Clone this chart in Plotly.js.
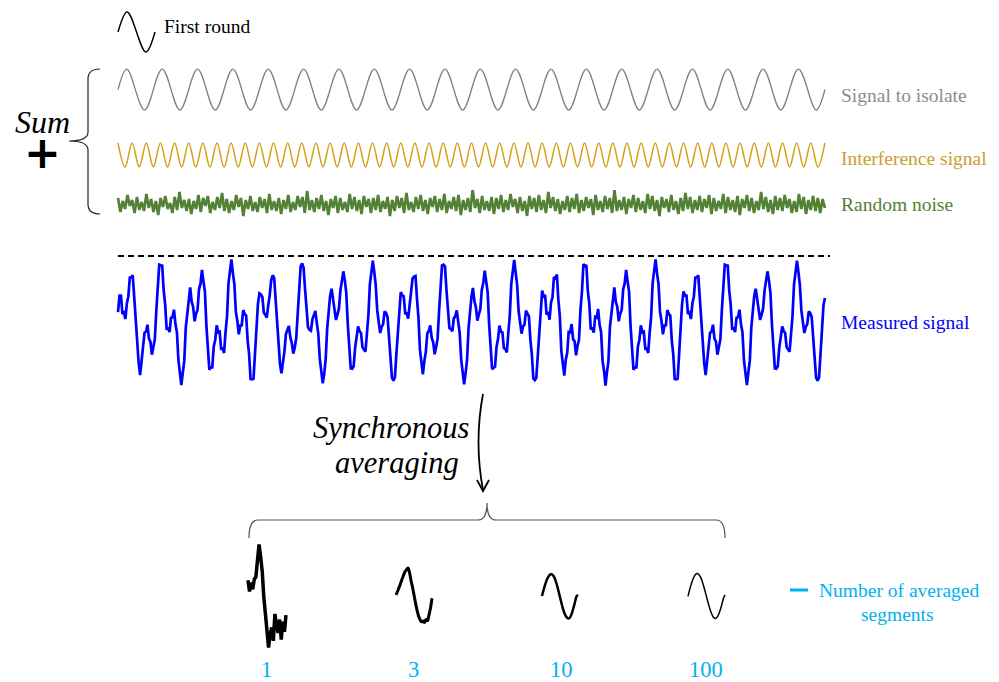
<!DOCTYPE html>
<html><head><meta charset="utf-8">
<script src="https://cdn.plot.ly/plotly-3.0.1.min.js"></script>
<style>html,body{margin:0;padding:0;background:#fff}#chart{width:999px;height:682px}</style>
</head><body><div id="chart"></div>
<script>
// ---------- DATA ----------
// Signal to isolate: 20 cycles, values at start, every extremum, end
const signalToIsolate = [0,
 1,-1, 1,-1, 1,-1, 1,-1, 1,-1, 1,-1, 1,-1, 1,-1, 1,-1, 1,-1,
 1,-1, 1,-1, 1,-1, 1,-1, 1,-1, 1,-1, 1,-1, 1,-1, 1,-1, 1,-1,
 0];
// Interference signal: 50 cycles, value at every extremum
const interferenceSignal = [
 1,-1,1,-1,1,-1,1,-1,1,-1,1,-1,1,-1,1,-1,1,-1,1,-1,
 1,-1,1,-1,1,-1,1,-1,1,-1,1,-1,1,-1,1,-1,1,-1,1,-1,
 1,-1,1,-1,1,-1,1,-1,1,-1,1,-1,1,-1,1,-1,1,-1,1,-1,
 1,-1,1,-1,1,-1,1,-1,1,-1,1,-1,1,-1,1,-1,1,-1,1,-1,
 1,-1,1,-1,1,-1,1,-1,1,-1,1,-1,1,-1,1,-1,1,-1,1,-1,
 1];
// Random noise (300 samples)
const randomNoise = [
 0.6,-0.8,0.3,-0.5,0.9,-0.2,0.4,-0.9,0.7,-0.6,
 0.2,-0.7,1.0,-0.4,0.5,-0.8,0.3,-1.1,0.6,-0.3,
 0.8,-0.5,0.1,-0.9,0.7,-0.6,1.2,-0.4,0.4,-0.7,
 0.5,-1.0,0.3,-0.5,0.9,-0.8,0.6,-0.2,0.8,-0.9,
 0.2,-0.6,0.7,-0.4,1.1,-0.7,0.5,-0.9,0.3,-0.6,
 0.9,-0.3,0.6,-1.2,0.4,-0.5,0.8,-0.7,0.2,-0.8,
 0.7,-0.4,0.5,-0.9,1.0,-0.6,0.3,-0.7,0.6,-1.0,
 0.4,-0.5,0.9,-0.8,0.2,-0.6,0.8,-0.3,0.7,-0.9,
 1.3,-0.6,0.4,-0.8,0.6,-0.5,0.9,-0.7,0.3,-1.1,
 0.5,-0.4,0.8,-0.9,0.6,-0.6,0.2,-0.8,1.0,-0.5,
 0.7,-0.7,0.4,-1.0,0.8,-0.3,0.5,-0.9,0.6,-0.6,
 0.9,-0.8,0.3,-0.5,0.7,-1.2,0.4,-0.7,0.8,-0.4,
 0.6,-0.9,1.1,-0.6,0.2,-0.8,0.7,-0.5,0.9,-0.7,
 0.4,-1.0,0.6,-0.3,0.8,-0.8,0.5,-0.6,1.0,-0.9,
 0.3,-0.5,0.7,-0.7,0.9,-1.1,0.4,-0.6,0.6,-0.8,
 1.5,-0.4,0.5,-0.9,0.8,-0.6,0.3,-0.7,0.7,-1.0,
 0.6,-0.5,0.9,-0.8,0.4,-0.6,1.0,-0.3,0.5,-0.9,
 0.7,-0.7,0.3,-1.2,0.8,-0.5,0.6,-0.8,0.9,-0.6,
 0.4,-0.9,1.2,-0.4,0.7,-0.7,0.5,-1.0,0.3,-0.6,
 0.8,-0.8,0.6,-0.5,1.0,-0.9,0.4,-0.7,0.7,-0.4,
 0.5,-1.1,0.9,-0.6,0.3,-0.8,0.8,-0.5,0.6,-0.9,
 1.4,-0.7,0.4,-0.6,0.7,-1.0,0.5,-0.4,0.9,-0.8,
 0.6,-0.6,0.3,-0.9,1.0,-0.5,0.8,-0.7,0.4,-1.2,
 0.7,-0.4,0.5,-0.8,0.9,-0.6,0.3,-1.0,0.6,-0.7,
 1.1,-0.5,0.7,-0.9,0.4,-0.6,0.8,-0.8,0.5,-0.4,
 0.9,-1.0,0.6,-0.7,0.3,-0.5,1.0,-0.9,0.7,-0.6,
 0.4,-0.8,0.8,-1.1,0.5,-0.4,0.9,-0.7,0.6,-0.9,
 0.3,-0.6,1.2,-0.5,0.7,-0.8,0.4,-1.0,0.8,-0.6,
 0.6,-0.7,0.9,-0.4,0.5,-0.9,0.3,-0.8,1.0,-0.5,
 0.7,-1.0,0.4,-0.6,0.8,-0.7,0.6,-0.9,0.5,-0.4];
// Measured signal: 481 samples, 24 samples per signal cycle
const measuredSignal = [
 0.30,0.79,0.79,0.24,0.28,0.09,0.56,0.76,1.33,1.34,1.40,0.68,0.15,-0.85,-1.22,-1.59,-1.15,-0.91,-0.32,-0.29,-0.08,-0.50,-0.59,-0.98,
 -0.73,-0.52,0.35,0.92,1.72,1.70,1.69,0.95,0.53,-0.20,-0.19,-0.30,0.13,0.15,0.37,-0.07,-0.31,-1.14,-1.48,-1.89,-1.52,-1.16,-0.17,0.31,
 0.74,1.04,0.60,0.46,0.02,0.25,0.36,0.98,1.15,1.56,1.22,0.91,-0.10,-0.70,-1.43,-1.36,-1.36,-0.73,-0.54,-0.10,-0.31,-0.29,-0.80,-0.79,
 -0.93,-0.31,0.16,1.16,1.52,1.88,1.46,1.14,0.31,0.04,-0.37,-0.11,-0.10,0.36,0.24,0.19,-0.55,-0.96,-1.71,-1.72,-1.70,-0.92,-0.36,0.54,
 0.86,0.83,0.75,0.28,0.22,0.13,0.50,0.80,1.26,1.40,1.33,0.72,0.10,-0.80,-1.27,-1.54,-1.20,-0.88,-0.36,-0.25,-0.12,-0.46,-0.63,-0.95,
 -0.77,-0.48,0.31,0.96,1.66,1.76,1.63,0.99,0.49,-0.16,-0.23,-0.26,0.08,0.19,0.33,-0.03,-0.36,-1.10,-1.52,-1.84,-1.56,-1.12,-0.21,0.35,
 0.78,1.00,0.64,0.43,0.06,0.22,0.40,0.94,1.19,1.52,1.25,0.87,-0.06,-0.73,-1.39,-1.40,-1.32,-0.77,-0.50,-0.13,-0.27,-0.33,-0.76,-0.83,
 -0.89,-0.35,0.20,1.12,1.55,1.84,1.50,1.10,0.35,0.00,-0.33,-0.15,-0.06,0.32,0.27,0.15,-0.51,-1.00,-1.67,-1.76,-1.66,-0.96,-0.32,0.50,
 0.90,0.80,0.77,0.26,0.26,0.10,0.54,0.78,1.31,1.36,1.38,0.70,0.13,-0.83,-1.24,-1.57,-1.17,-0.90,-0.34,-0.27,-0.10,-0.48,-0.61,-0.97,
 -0.75,-0.50,0.33,0.94,1.70,1.72,1.67,0.97,0.51,-0.18,-0.21,-0.28,0.11,0.17,0.35,-0.05,-0.33,-1.12,-1.50,-1.87,-1.54,-1.14,-0.19,0.33,
 0.76,1.02,0.62,0.44,0.04,0.23,0.38,0.96,1.17,1.54,1.23,0.89,-0.08,-0.71,-1.41,-1.38,-1.34,-0.75,-0.52,-0.11,-0.29,-0.31,-0.78,-0.81,
 -0.91,-0.33,0.18,1.14,1.53,1.86,1.48,1.12,0.33,0.02,-0.35,-0.13,-0.08,0.34,0.25,0.17,-0.53,-0.98,-1.69,-1.74,-1.68,-0.94,-0.34,0.52,
 0.94,0.77,0.81,0.22,0.30,0.07,0.58,0.74,1.35,1.32,1.42,0.66,0.17,-0.87,-1.20,-1.61,-1.13,-0.93,-0.30,-0.31,-0.06,-0.52,-0.57,-1.00,
 -0.71,-0.54,0.37,0.90,1.74,1.68,1.71,0.93,0.55,-0.22,-0.17,-0.32,0.15,0.13,0.39,-0.09,-0.29,-1.16,-1.46,-1.91,-1.50,-1.18,-0.15,0.29,
 0.74,1.04,0.60,0.46,0.02,0.25,0.36,0.98,1.15,1.56,1.22,0.91,-0.10,-0.70,-1.43,-1.36,-1.36,-0.73,-0.54,-0.10,-0.31,-0.29,-0.80,-0.79,
 -0.93,-0.31,0.16,1.16,1.52,1.88,1.46,1.14,0.31,0.04,-0.37,-0.11,-0.10,0.36,0.24,0.19,-0.55,-0.96,-1.71,-1.72,-1.70,-0.92,-0.36,0.54,
 0.92,0.79,0.79,0.24,0.28,0.09,0.56,0.76,1.33,1.34,1.40,0.68,0.15,-0.85,-1.22,-1.59,-1.15,-0.91,-0.32,-0.29,-0.08,-0.50,-0.59,-0.98,
 -0.73,-0.52,0.35,0.92,1.72,1.70,1.69,0.95,0.53,-0.20,-0.19,-0.30,0.13,0.15,0.37,-0.07,-0.31,-1.14,-1.48,-1.89,-1.52,-1.16,-0.17,0.31,
 0.78,1.00,0.64,0.43,0.06,0.22,0.40,0.94,1.19,1.52,1.25,0.87,-0.06,-0.73,-1.39,-1.40,-1.32,-0.77,-0.50,-0.13,-0.27,-0.33,-0.76,-0.83,
 -0.89,-0.35,0.20,1.12,1.55,1.84,1.50,1.10,0.35,0.00,-0.33,-0.15,-0.06,0.32,0.27,0.15,-0.51,-1.00,-1.67,-1.76,-1.66,-0.96,-0.32,0.50,
 0.72];
// First round: one cycle of the signal
const firstRound = [0, 1, -1, 0];
// Synchronous averages (one signal cycle each, 25 samples)
const segmentCounts = ['1', '3', '10', '100'];
const avg1   = [0.70,0.20,0.60,0.30,0.75,0.85,1.60,2.30,1.75,1.10,-0.05,-0.90,-1.55,-2.30,-1.70,-1.40,-2.00,-0.80,-1.30,-1.65,-1.05,-1.95,-1.15,-1.60,-0.85];
const avg3   = [0.05,0.20,0.38,0.55,0.75,0.92,1.08,1.18,1.25,1.05,0.70,0.40,0.05,-0.30,-0.62,-0.88,-1.05,-1.15,-1.12,-1.18,-1.05,-1.10,-0.85,-0.55,-0.10];
const avg10  = [0.00,0.25,0.48,0.68,0.83,0.93,0.97,0.95,0.86,0.70,0.48,0.22,-0.05,-0.32,-0.57,-0.77,-0.91,-0.99,-1.00,-0.92,-0.75,-0.52,-0.27,-0.02,0.05];
const avg100 = [-0.02,0.26,0.50,0.71,0.87,0.97,1.00,0.96,0.86,0.70,0.48,0.23,-0.03,-0.29,-0.53,-0.74,-0.89,-0.98,-1.00,-0.94,-0.80,-0.60,-0.36,-0.10,0.05];
const rowLabels = ['Signal to isolate', 'Interference signal', 'Random noise', 'Measured signal'];

// ---------- time axes (in signal cycles) ----------
const sigT = signalToIsolate.map((_, i) => i === 0 ? 0 : (i === signalToIsolate.length - 1 ? 20 : 0.25 + 0.5 * (i - 1)));
const intT = interferenceSignal.map((_, i) => i * 0.2);
const noiseT = randomNoise.map((_, i) => i * 20 / (randomNoise.length - 1));
const measT = measuredSignal.map((_, i) => i / 24);
const frT = [0, 0.25, 0.75, 1];
const avgT = avg1.map((_, i) => i / (avg1.length - 1));

// ---------- helpers for page positions ----------
const W = 999, H = 682;
const px = x => x / W;
const py = y => 1 - y / H;
const SERIF = 'Liberation Serif, Times New Roman, serif';
const CYAN = '#00B0F0';

const traces = [
  {x: sigT, y: signalToIsolate, xaxis: 'x', yaxis: 'y', mode: 'lines', line: {color: '#7f7f7f', width: 1.3, shape: 'spline'}},
  {x: intT, y: interferenceSignal, xaxis: 'x', yaxis: 'y2', mode: 'lines', line: {color: '#D4A017', width: 1.5, shape: 'spline'}},
  {x: noiseT, y: randomNoise, xaxis: 'x', yaxis: 'y3', mode: 'lines', line: {color: '#538135', width: 2.7}},
  {x: measT, y: measuredSignal, xaxis: 'x', yaxis: 'y4', mode: 'lines', line: {color: '#0000FF', width: 2.7}},
  {x: frT, y: firstRound, xaxis: 'x2', yaxis: 'y5', mode: 'lines', line: {color: '#000', width: 1.5, shape: 'spline'}},
  {x: avgT, y: avg1, xaxis: 'x3', yaxis: 'y6', mode: 'lines', line: {color: '#000', width: 3.5}},
  {x: avgT, y: avg3, xaxis: 'x4', yaxis: 'y6', mode: 'lines', line: {color: '#000', width: 3, shape: 'spline'}},
  {x: avgT, y: avg10, xaxis: 'x5', yaxis: 'y6', mode: 'lines', line: {color: '#000', width: 2.5, shape: 'spline'}},
  {x: avgT, y: avg100, xaxis: 'x6', yaxis: 'y6', mode: 'lines', line: {color: '#000', width: 1.5, shape: 'spline'}}
];

const hid = {visible: false, fixedrange: true};
const layout = {
  width: W, height: H, margin: {l: 0, r: 0, t: 0, b: 0},
  paper_bgcolor: '#fff', plot_bgcolor: 'rgba(0,0,0,0)',
  showlegend: false, hovermode: false,
  xaxis:  Object.assign({domain: [0.1146, 0.8293], range: [-0.1, 20.1], anchor: 'y'}, hid),
  yaxis:  Object.assign({domain: [0.8327, 0.9048], range: [-1.2, 1.2], anchor: 'x'}, hid),
  yaxis2: Object.assign({domain: [0.7499, 0.7956], range: [-1.3, 1.3], anchor: 'x'}, hid),
  yaxis3: Object.assign({domain: [0.6804, 0.7214], range: [-1.4, 1.4], anchor: 'x'}, hid),
  yaxis4: Object.assign({domain: [0.4252, 0.6305], range: [-2.1, 2.1], anchor: 'x'}, hid),
  xaxis2: Object.assign({domain: [0.1163, 0.1570], range: [-0.05, 1.05], anchor: 'y5'}, hid),
  yaxis5: Object.assign({domain: [0.9179, 0.9883], range: [-1.2, 1.2], anchor: 'x2'}, hid),
  xaxis3: Object.assign({domain: [0.2463, 0.2882], range: [-0.05, 1.05], anchor: 'y6'}, hid),
  xaxis4: Object.assign({domain: [0.3946, 0.4342], range: [-0.05, 1.05], anchor: 'y6'}, hid),
  xaxis5: Object.assign({domain: [0.5407, 0.5804], range: [-0.05, 1.05], anchor: 'y6'}, hid),
  xaxis6: Object.assign({domain: [0.6868, 0.7276], range: [-0.05, 1.05], anchor: 'y6'}, hid),
  yaxis6: Object.assign({domain: [0.0374, 0.2148], range: [-2.7, 2.7], anchor: 'x3'}, hid),
  shapes: [],
  annotations: []
};

function P(x, y) { return px(x).toFixed(5) + ',' + py(y).toFixed(5); }
// dashed separator
layout.shapes.push({type: 'line', xref: 'paper', yref: 'paper', x0: px(118), x1: px(830), y0: py(256), y1: py(256),
  line: {color: '#000', width: 2, dash: '6px,4px'}});
// left brace
layout.shapes.push({type: 'path', xref: 'paper', yref: 'paper',
  path: 'M' + P(100, 69) + ' Q' + P(88, 69) + ' ' + P(88, 79) + ' L' + P(88, 132) + ' Q' + P(88, 141) + ' ' + P(69, 141) +
        ' Q' + P(88, 141) + ' ' + P(88, 150) + ' L' + P(88, 204) + ' Q' + P(88, 214) + ' ' + P(100, 214),
  line: {color: '#222', width: 1.2}});
// bottom brace
layout.shapes.push({type: 'path', xref: 'paper', yref: 'paper',
  path: 'M' + P(249, 538) + ' Q' + P(249, 520) + ' ' + P(258, 520) + ' L' + P(478, 520) + ' Q' + P(487, 520) + ' ' + P(487, 503) +
        ' Q' + P(487, 520) + ' ' + P(496, 520) + ' L' + P(716, 520) + ' Q' + P(725, 520) + ' ' + P(725, 538),
  line: {color: '#555', width: 1.2}});
// curved arrow
layout.shapes.push({type: 'path', xref: 'paper', yref: 'paper',
  path: 'M' + P(483, 394) + ' Q' + P(474, 442) + ' ' + P(483, 490),
  line: {color: '#000', width: 1.8}});
layout.shapes.push({type: 'path', xref: 'paper', yref: 'paper',
  path: 'M' + P(477, 480) + ' L' + P(483, 491) + ' L' + P(489, 480),
  line: {color: '#000', width: 1.8}});
// legend dash
layout.shapes.push({type: 'line', xref: 'paper', yref: 'paper', x0: px(790), x1: px(808), y0: py(590), y1: py(590),
  line: {color: CYAN, width: 3}});

function txt(t, x, y, opts) {
  layout.annotations.push(Object.assign({text: t, x: px(x), y: py(y), xref: 'paper', yref: 'paper',
    showarrow: false, xanchor: 'left', yanchor: 'middle',
    font: {family: SERIF, size: 19.5, color: '#000'}}, opts || {}));
}
txt('First round', 162, 27);
const rowColors = ['#8c8c8c', '#C9A030', '#538135', '#0000FF'];
const rowY = [96, 158, 205, 322];
rowLabels.forEach((l, i) => txt(l, 839, rowY[i], {font: {family: SERIF, size: 19.5, color: rowColors[i]}}));
// "Sum" and "+" as one two-line text
txt('<span style="font-size:32px"><i>Sum</i></span><br><span style="font-family:DejaVu Sans;font-size:44px"><b>+</b></span>',
    42, 141, {xanchor: 'center', font: {family: SERIF, size: 27, color: '#000'}});
txt('<i>Synchronous</i>', 391, 428, {xanchor: 'center', font: {family: SERIF, size: 30.5, color: '#000'}});
txt('<i>averaging</i>', 397, 463, {xanchor: 'center', font: {family: SERIF, size: 30.5, color: '#000'}});
const labelX = [266, 413, 561, 706];
segmentCounts.forEach((c, i) => txt(c, labelX[i], 669, {xanchor: 'center', height: 22, font: {family: SERIF, size: 22.5, color: CYAN}}));
txt('Number of averaged', 817, 590, {font: {family: SERIF, size: 19.5, color: CYAN}});
txt('segments', 897, 614, {xanchor: 'center', font: {family: SERIF, size: 19.5, color: CYAN}});

Plotly.newPlot('chart', traces, layout, {staticPlot: true, displayModeBar: false});
</script>
</body></html>
